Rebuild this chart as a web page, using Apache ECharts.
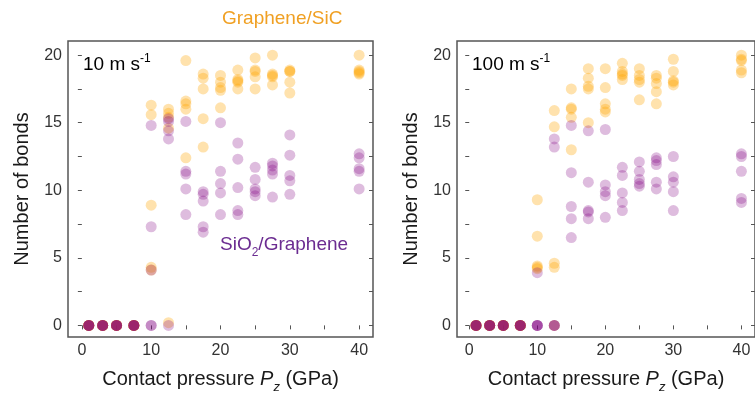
<!DOCTYPE html>
<html>
<head>
<meta charset="utf-8">
<script src="https://cdn.jsdelivr.net/npm/echarts@6/dist/echarts.min.js"></script>
<style>
  html, body { margin: 0; padding: 0; background: #ffffff; }
  #chart { width: 755px; height: 399px; }
</style>
</head>
<body>
<div id="chart"></div>
<script>
// Contact pressures (GPa) at which each set of runs was made
const pressures = [1, 3, 5, 7.5, 10, 12.5, 15, 17.5, 20, 22.5, 25, 27.5, 30, 40];

// Number of bonds per run, sliding speed 10 m/s
const sicBonds10 = [
  [0, 0, 0, 0, 0], [0, 0, 0, 0, 0], [0, 0, 0, 0, 0], [0, 0, 0, 0, 0],
  [16.3, 15.6, 8.9, 4.3, 4.1],
  [16.0, 15.7, 15.4, 14.6, 0.2],
  [19.6, 16.6, 16.4, 16.0, 12.4],
  [18.6, 18.3, 17.5, 15.3, 13.2],
  [18.5, 18.0, 17.6, 17.4, 16.1],
  [18.9, 18.2, 18.1, 18.0, 17.5],
  [19.8, 18.9, 18.8, 18.4, 17.5],
  [20.0, 18.6, 18.5, 18.4, 17.8],
  [18.9, 18.8, 18.8, 18.0, 17.2],
  [20.0, 18.9, 18.8, 18.7, 18.6]
];
const sio2Bonds10 = [
  [0, 0, 0, 0, 0], [0, 0, 0, 0, 0], [0, 0, 0, 0, 0], [0, 0, 0, 0, 0],
  [14.8, 7.3, 4.1, 0, 0],
  [15.3, 15.1, 14.4, 13.8, 0],
  [15.1, 11.4, 11.2, 10.1, 8.2],
  [9.9, 9.7, 9.2, 7.3, 6.9],
  [15.0, 11.4, 10.5, 9.8, 8.2],
  [13.5, 12.3, 10.2, 8.5, 8.2],
  [11.7, 10.8, 10.1, 9.9, 9.6],
  [12.0, 11.8, 11.5, 11.2, 9.5],
  [14.1, 12.6, 11.1, 10.7, 9.7],
  [12.7, 12.4, 11.6, 11.4, 10.1]
];

// Number of bonds per run, sliding speed 100 m/s
const sicBonds100 = [
  [0, 0, 0, 0, 0], [0, 0, 0, 0, 0], [0, 0, 0, 0, 0], [0, 0, 0, 0, 0],
  [9.3, 6.6, 4.4, 4.3, 4.2],
  [15.9, 14.7, 4.6, 4.3, 0],
  [17.5, 16.1, 16.0, 15.4, 13.0],
  [19.0, 18.3, 17.7, 17.5, 15.0],
  [19.0, 17.6, 16.4, 16.0, 15.8],
  [19.4, 18.8, 18.6, 18.5, 18.2],
  [19.0, 18.5, 18.2, 18.0, 16.7],
  [18.5, 18.3, 17.9, 17.3, 16.4],
  [19.7, 18.8, 18.1, 18.0, 17.8],
  [20.0, 19.7, 19.6, 18.9, 18.7]
];
const sio2Bonds100 = [
  [0, 0, 0, 0, 0], [0, 0, 0, 0, 0], [0, 0, 0, 0, 0], [0, 0, 0, 0, 0],
  [3.9, 0, 0, 0, 0],
  [13.8, 13.2, 0, 0, 0],
  [14.8, 11.3, 8.8, 7.9, 6.5],
  [14.4, 10.6, 8.5, 8.4, 7.9],
  [14.5, 10.4, 9.9, 9.6, 8.0],
  [11.7, 11.1, 9.8, 9.1, 8.5],
  [12.1, 11.4, 10.8, 10.5, 10.3],
  [12.4, 12.2, 11.9, 10.6, 10.1],
  [12.5, 11.0, 10.6, 9.9, 8.5],
  [12.7, 12.5, 11.4, 9.4, 9.1]
];

// Axis tick and label positions
const xLabelValues = [0, 10, 20, 30, 40];
const xTickValues = [0, 5, 10, 15, 20, 25, 30, 35, 40];
const yLabelValues = [0, 5, 10, 15, 20];
const yTickValues = [0, 2.5, 5, 7.5, 10, 12.5, 15, 17.5, 20];

const SANS = "'Liberation Sans', Arial, sans-serif";
const NARROW = "'Liberation Sans Narrow', 'Liberation Sans', Arial, sans-serif";
const ORANGE = 'rgba(255, 165, 0, 0.4)';
const PURPLE = 'rgba(128, 0, 128, 0.33)';
const FRAME = '#555555';

function toPoints(rows) {
  const pts = [];
  pressures.forEach((p, i) => rows[i].forEach(v => pts.push([p, v])));
  return pts;
}

const nameRich = {
  t: { fontSize: 20, fontFamily: SANS, color: '#1a1a1a', lineHeight: 26 },
  i: { fontSize: 20, fontFamily: SANS, fontStyle: 'italic', color: '#1a1a1a', lineHeight: 26 },
  s: { fontSize: 13, fontFamily: SANS, fontStyle: 'italic', color: '#1a1a1a', lineHeight: 30, verticalAlign: 'bottom' }
};

function xAxisFor(gridIndex, min) {
  return {
    type: 'value', gridIndex, min, max: 42,
    axisLine: { show: false },
    splitLine: { show: false },
    axisTick: { show: true, inside: false, length: 4, customValues: xTickValues,
                lineStyle: { color: FRAME, width: 1 } },
    axisLabel: { customValues: xLabelValues, fontSize: 16, fontFamily: NARROW, color: '#333', margin: 6 },
    name: '{t|Contact pressure }{i|P}{s|z}{t| (GPa)}',
    nameLocation: 'middle', nameGap: 27,
    nameTextStyle: { rich: nameRich }
  };
}
function yAxisFor(gridIndex) {
  return {
    type: 'value', gridIndex, min: -0.86, max: 21.05,
    axisLine: { show: false },
    splitLine: { show: false },
    axisTick: { show: true, inside: false, length: 4, customValues: yTickValues,
                lineStyle: { color: FRAME, width: 1 } },
    axisLabel: { customValues: yLabelValues, fontSize: 16, fontFamily: NARROW, color: '#333', margin: 6 },
    name: 'Number of bonds',
    nameLocation: 'middle', nameGap: 33,
    nameTextStyle: { fontSize: 20, fontFamily: SANS, color: '#1a1a1a', lineHeight: 26 }
  };
}
function mirrorYAxis(gridIndex) {
  return {
    type: 'value', gridIndex, position: 'right', min: -0.86, max: 21.05,
    axisLine: { show: false }, splitLine: { show: false },
    axisLabel: { show: false },
    axisTick: { show: true, inside: true, length: 4, customValues: yTickValues,
                lineStyle: { color: FRAME, width: 1 } }
  };
}
function scatter(data, color, xi, yi) {
  return {
    type: 'scatter', xAxisIndex: xi, yAxisIndex: yi,
    data, symbolSize: 11,
    itemStyle: { color },
    emphasis: { disabled: true },
    silent: true, animation: false
  };
}

const chart = echarts.init(document.getElementById('chart'), null, { renderer: 'canvas' });
chart.setOption({
  animation: false,
  backgroundColor: '#ffffff',
  grid: [
    { left: 68, top: 41, width: 305, height: 304, show: true, borderColor: FRAME, borderWidth: 1.5 },
    { left: 457, top: 41, width: 304, height: 304, show: true, borderColor: FRAME, borderWidth: 1.5 }
  ],
  xAxis: [xAxisFor(0, -2), xAxisFor(1, -1.8)],
  yAxis: [yAxisFor(0), yAxisFor(1), mirrorYAxis(0), mirrorYAxis(1)],
  series: [
    scatter(toPoints(sicBonds10), ORANGE, 0, 0),
    scatter(toPoints(sio2Bonds10), PURPLE, 0, 0),
    scatter(toPoints(sicBonds100), ORANGE, 1, 1),
    scatter(toPoints(sio2Bonds100), PURPLE, 1, 1)
  ],
  graphic: [
    { type: 'text', left: 222, top: 9,
      style: { text: 'Graphene/SiC', fill: '#F0A023', font: '19px ' + SANS } },
    { type: 'text', left: 220, top: 235,
      style: { text: '{n|SiO}{s|2}{n|/Graphene}', rich: {
        n: { fontSize: 19, fontFamily: SANS, fill: '#6B2C91', lineHeight: 24 },
        s: { fontSize: 12, fontFamily: SANS, fill: '#6B2C91', lineHeight: 28, verticalAlign: 'bottom' } } } },
    { type: 'text', left: 83, top: 53,
      style: { text: '{n|10 m s}{u|-1}', rich: {
        n: { fontSize: 19, fontFamily: SANS, fill: '#000', lineHeight: 24 },
        u: { fontSize: 12, fontFamily: SANS, fill: '#000', lineHeight: 24, verticalAlign: 'top' } } } },
    { type: 'text', left: 472, top: 53,
      style: { text: '{n|100 m s}{u|-1}', rich: {
        n: { fontSize: 19, fontFamily: SANS, fill: '#000', lineHeight: 24 },
        u: { fontSize: 12, fontFamily: SANS, fill: '#000', lineHeight: 24, verticalAlign: 'top' } } } }
  ]
});
</script>
</body>
</html>
